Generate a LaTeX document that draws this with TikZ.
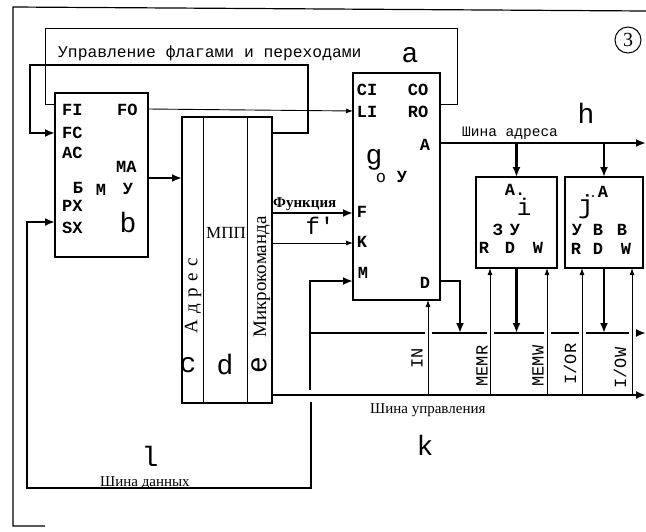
\documentclass[tikz,border=0pt]{standalone}
\usepackage{fontspec}
\setmainfont{Liberation Serif}
\newfontfamily\monof{Liberation Mono}
\usetikzlibrary{arrows.meta}
\begin{document}
\begin{tikzpicture}[x=1pt,y=-1pt,
  boxst/.style={draw, line width=1.4pt, inner sep=0, outer sep=0},
  thickln/.style={line width=2.8pt},
  thinln/.style={line width=0.9pt},
  framel/.style={line width=1.2pt},
  tipthick/.style={-{Latex[length=10pt,width=8pt]}},
  tipthin/.style={-{Latex[length=7pt,width=5pt]}},
  pinlbl/.style={font=\monof\bfseries\fontsize{17}{17}\selectfont, inner sep=0},
  sigl/.style={font=\monof\fontsize{17}{17}\selectfont, inner sep=0, rotate=90},
  letl/.style={font=\monof\fontsize{28}{28}\selectfont, inner sep=0},
  rusl/.style={font=\fontsize{15}{15}\selectfont, inner sep=0},
  monol/.style={font=\monof\fontsize{16.3}{16.3}\selectfont, inner sep=0},
]
\useasboundingbox (0,0) rectangle (646,531);
\fill[white] (0,0) rectangle (646,531);

% page frame
\draw[framel] (646,11) -- (13,7) -- (13,526) -- (45,526);

% boxes
\node[boxst, minimum width=93pt, minimum height=164pt] (bmu) at (101.5,175) {};
\node[boxst, minimum width=90pt, minimum height=286pt] (mpp) at (227,260) {};
\draw[thinln] ([xshift=21pt]mpp.north west) -- ([xshift=21pt]mpp.south west);
\draw[thinln] ([xshift=65pt]mpp.north west) -- ([xshift=65pt]mpp.south west);
\node[boxst, minimum width=87pt, minimum height=227pt] (cpu) at (396.5,186.5) {};
\node[boxst, minimum width=81pt, minimum height=91pt] (mem) at (516.5,222.5) {};
\node[boxst, minimum width=78pt, minimum height=91pt] (io) at (604,222.5) {};

% flag / jump control loop (thin)
\draw[thinln] (cpu.east |- 0,104) -- (457,104) -- (457,28) -- (45,28) -- (45,104) -- (bmu.west |- 0,104);
% FO -> LI
\draw[thinln, tipthin] (bmu.east |- 0,109) -- (cpu.west |- 0,111);
% thick flag line MPP -> FC
\draw[thickln, tipthick] (mpp.east |- 0,133) -- (308,133) -- (308,65) -- (30,65) -- (30,133) -- (bmu.west |- 0,133);
% MA -> MPP
\draw[thickln, tipthick] (bmu.east |- 0,178) -- (mpp.west |- 0,178);
% Function -> F
\draw[thickln, tipthick] (mpp.east |- 0,213) -- (cpu.west |- 0,213);
% K
\draw[thinln, tipthin] (mpp.east |- 0,243) -- (cpu.west |- 0,243);
% M
\coordinate (mlow) at (310,390);
\draw[thickln, tipthick] (mlow) -- (310,281) -- (cpu.west |- 0,281);
% data bus loop to SX
\coordinate (dbtop) at (311,402);
\draw[thickln, tipthick] (dbtop) -- (311,488) -- (27,488) -- (27,222) -- (bmu.west |- 0,222);
% internal data bus (broken where signal lines cross)
\draw[thickln] (310,333) -- (425,333);
\draw[thickln] (432,333) -- (487,333);
\draw[thickln] (494,333) -- (544,333);
\draw[thickln] (551,333) -- (579,333);
\draw[thickln] (586,333) -- (629,333);
\coordinate (dbend) at (646,333);
\draw[thickln, tipthick] (636,333) -- (dbend);
% D -> bus
\draw[thickln, tipthick] (cpu.east |- 0,281) -- (460,281) -- (460,333);
\draw[thickln, tipthick] (mem.south) -- (mem.south |- 0,333);
\draw[thickln, tipthick] (io.south) -- (io.south |- 0,333);
% address bus
\coordinate (abend) at (646,143);
\draw[thickln, tipthick] (cpu.east |- abend) -- (abend);
\draw[thickln, tipthick] (mem.north |- abend) -- (mem.north);
\draw[thickln, tipthick] (io.north |- abend) -- (io.north);
% control bus
\coordinate (cbend) at (646,395);
\draw[thickln, tipthick] (mpp.east |- cbend) -- (cbend);
\draw[thinln, tipthin] (428,395) -- (cpu.south -| 428,0);
\draw[thinln, tipthin] (490,395) -- (mem.south -| 490,0);
\draw[thinln, tipthin] (547,395) -- (mem.south -| 547,0);
\draw[thinln, tipthin] (582,395) -- (io.south -| 582,0);
\draw[thinln, tipthin] (632,395) -- (io.south -| 632,0);

% texts
\node[monol, anchor=base west] (tflag) at (58,57) {Управление флагами и переходами};
\node[letl] (la) at (410,55) {a};
\node[draw, circle, line width=1pt, minimum size=26pt, inner sep=0, font=\fontsize{20}{20}\selectfont] (c3) at (628,40) {3};
\node[letl] (lh) at (586,113) {h};
\node[monol, anchor=base west, font=\monof\fontsize{14.5}{14.5}\selectfont] (tab) at (462,136) {Шина адреса};

% BMU labels
\node[pinlbl, anchor=west] (fi) at (62,110) {FI};
\node[pinlbl, anchor=west] (fo) at (117,110) {FO};
\node[pinlbl, anchor=west] (fc) at (62,133) {FC};
\node[pinlbl, anchor=west] (ac) at (62,153) {AC};
\node[pinlbl, anchor=west] (ma) at (116,167) {MA};
\node[pinlbl] (b1) at (78,188) {Б};
\node[pinlbl] (b2) at (101,190) {М};
\node[pinlbl] (b3) at (128,189) {У};
\node[pinlbl, anchor=west] (px) at (62,206) {PX};
\node[pinlbl, anchor=west] (sx) at (62,228) {SX};
\node[letl] (lb) at (128,222) {b};

% MPP labels
\node[rusl, font=\fontsize{17}{17}\selectfont] (tmpp) at (226,233) {МПП};
\node[rusl, rotate=90, font=\fontsize{19}{19}\selectfont] (tadr) at (193,296) {А\,\,д\,\,р\,\,е\,\,с};
\node[rusl, rotate=90, font=\fontsize{19}{19}\selectfont] (tmk) at (262,277) {Микрокоманда};
\node[letl] (lc) at (188,365) {c};
\node[letl] (ld) at (225,365) {d};
\node[letl, rotate=90] (le) at (259,365) {e};
\node[rusl, anchor=base west, font=\bfseries\fontsize{15}{15}\selectfont] (tfun) at (273,207) {Функция};
\node[letl, font=\monof\fontsize{24}{24}\selectfont] (lf) at (320,226) {f'};

% CPU labels
\node[pinlbl] (ci) at (367,90) {CI};
\node[pinlbl] (co) at (418,90) {CO};
\node[pinlbl] (li) at (367,112) {LI};
\node[pinlbl] (ro) at (418,112) {RO};
\node[pinlbl] (pa) at (425,145) {A};
\node[letl] (lg) at (374,160) {g};
\node[pinlbl, font=\monof\fontsize{17}{17}\selectfont] (go) at (381,178) {о};
\node[pinlbl] (gu) at (402,177) {У};
\node[pinlbl] (pf) at (362,212) {F};
\node[pinlbl] (pk) at (362,242) {K};
\node[pinlbl] (pm) at (363,273) {M};
\node[pinlbl] (pd) at (425,283) {D};

% memory labels
\node[pinlbl] (ma2) at (515,190) {A.};
\node[letl, font=\monof\fontsize{24}{24}\selectfont] (li2) at (524,207) {i};
\node[pinlbl] (mz) at (498,230) {З};
\node[pinlbl] (mu) at (515,230) {У};
\node[pinlbl] (mr) at (484,248) {R};
\node[pinlbl] (md) at (510,248) {D};
\node[pinlbl] (mw) at (538,248) {W};

% io labels
\node[pinlbl] (ia) at (603,192) {A};
\node[circle, fill, inner sep=0.8pt] (idot) at (593,196) {};
\node[letl, font=\monof\fontsize{26}{26}\selectfont] (lj) at (586,207) {j};
\node[pinlbl] (iu) at (577,230) {У};
\node[pinlbl] (ib1) at (598,230) {В};
\node[pinlbl] (ib2) at (622,230) {В};
\node[pinlbl] (ir) at (576,249) {R};
\node[pinlbl] (id) at (598,249) {D};
\node[pinlbl] (iw) at (626,249) {W};

% control signal labels
\node[sigl] (sin) at (417,358) {IN};
\node[sigl] (smr) at (482,366) {MEMR};
\node[sigl] (smw) at (538,366) {MEMW};
\node[sigl] (sor) at (570,364) {I/OR};
\node[sigl] (sow) at (620,368) {I/OW};

\node[rusl, anchor=base west] (tcb) at (370,413) {Шина управления};
\node[letl] (lk) at (425,445) {k};
\node[letl] (ll) at (150,456) {l};
\node[rusl, anchor=base west] (tdb) at (100,486) {Шина данных};
\end{tikzpicture}
\end{document}
